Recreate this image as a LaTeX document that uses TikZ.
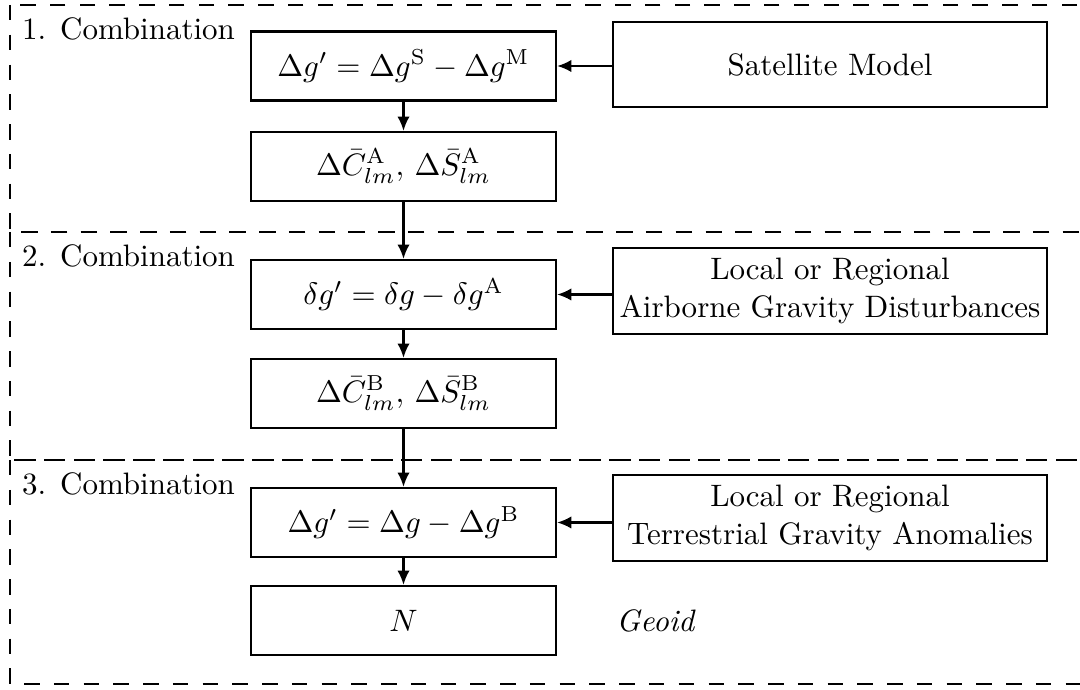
\documentclass[tikz,border=0pt]{standalone}
\usetikzlibrary{arrows.meta}
\begin{document}
\begin{tikzpicture}[x=0.3226pt,y=-0.3226pt, line width=0.7pt,
  calc/.style={draw, minimum width=98.4pt, minimum height=22.3pt, inner sep=0pt},
  src/.style={draw, minimum width=140pt, minimum height=27.6pt, inner sep=0pt, align=center},
  sect/.style={draw, dash pattern=on 5pt off 4.6pt},
  lab/.style={anchor=north west, inner sep=3.6pt},
  arr/.style={-{Latex[length=4.6pt,width=4pt]}}]
\useasboundingbox (0,0) rectangle (1080,690);
\clip (0,0) rectangle (1080,690);
% sections
\draw[sect] (10,5) rectangle (1120,232);
\draw[sect] (10,232) rectangle (1120,460);
\draw[sect] (10,460) rectangle (1120,684);
\node[lab] (l1) at (10,5) {1. Combination};
\node[lab] (l2) at (10,232) {2. Combination};
\node[lab] (l3) at (10,460) {3. Combination};
% left column
\node[calc] (A) at (403.5,66) {$\Delta g' = \Delta g^{\mathrm{S}} - \Delta g^{\mathrm{M}}$};
\node[calc] (B) at (403.5,166.5) {$\Delta\bar{C}^{\mathrm{A}}_{lm},\,\Delta\bar{S}^{\mathrm{A}}_{lm}$};
\node[calc] (C) at (403.5,294.5) {$\delta g' = \delta g - \delta g^{\mathrm{A}}$};
\node[calc] (D) at (403.5,393.5) {$\Delta\bar{C}^{\mathrm{B}}_{lm},\,\Delta\bar{S}^{\mathrm{B}}_{lm}$};
\node[calc] (E) at (403.5,522.5) {$\Delta g' = \Delta g - \Delta g^{\mathrm{B}}$};
\node[calc] (F) at (403.5,620.5) {$N$};
% right column
\node[src] (sat) at (830,64.5) {Satellite Model};
\node[src] (air) at (830,291) {Local or Regional\\Airborne Gravity Disturbances};
\node[src] (ter) at (830,518) {Local or Regional\\Terrestrial Gravity Anomalies};
\node (geo) at (656,621) {\textit{Geoid}};
% connectors
\draw[arr] (A) -- (B);
\draw[arr] (B) -- (C);
\draw[arr] (C) -- (D);
\draw[arr] (D) -- (E);
\draw[arr] (E) -- (F);
\draw[arr] (sat.west |- A.east) -- (A.east);
\draw[arr] (air.west |- C.east) -- (C.east);
\draw[arr] (ter.west |- E.east) -- (E.east);
\end{tikzpicture}
\end{document}
